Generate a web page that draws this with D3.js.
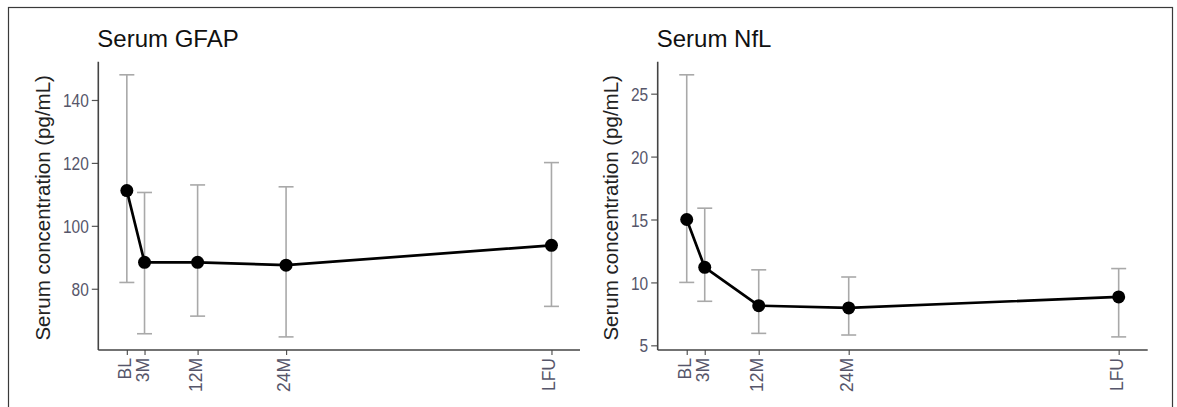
<!DOCTYPE html>
<html>
<head>
<meta charset="utf-8">
<script src="https://cdn.jsdelivr.net/npm/d3@7"></script>
<style>
  body { margin: 0; background: #fff; }
  svg { display: block; font-family: "Liberation Sans", Arial, sans-serif; }
</style>
</head>
<body>
<div class="board"></div>
<script>
// visit labels and (approximate) months after baseline
const timeLabels = ["BL", "3M", "12M", "24M", "LFU"];
const timeMonths = [0, 3, 12, 27, 72];

// serum GFAP, pg/mL
const gfapMean  = [111.2, 88.4, 88.4, 87.5, 93.8];
const gfapLower = [82.0, 65.7, 71.3, 64.7, 74.4];
const gfapUpper = [148.0, 110.6, 113.0, 112.4, 120.1];
const gfapTicks = [80, 100, 120, 140];

// serum NfL, pg/mL
const nflMean  = [15.0, 11.2, 8.15, 7.97, 8.85];
const nflLower = [10.0, 8.5, 5.95, 5.82, 5.67];
const nflUpper = [26.5, 15.9, 11.0, 10.43, 11.1];
const nflTicks = [5, 10, 15, 20, 25];

const W = 1177, H = 407;

const svg = d3.select(".board")
    .append("svg")
    .attr("width", W)
    .attr("height", H)

// outer frame (bottom runs off the picture)
svg.append("rect")
    .attr("x", 8.5)
    .attr("y", 7.5)
    .attr("width", 1164)
    .attr("height", 420)
    .attr("fill", "none")
    .attr("stroke", "#3a3a3a")
    .attr("stroke-width", 1.2)

function buildRows(mean, lower, upper) {
    return timeLabels.map((lab, i) => ({
        label: lab, t: timeMonths[i], mean: mean[i], lo: lower[i], hi: upper[i]
    }))
}

function drawPanel(p) {
    let rows = buildRows(p.mean, p.lower, p.upper)

    // ggplot-like expansion of the domains
    let xMin = d3.min(timeMonths), xMax = d3.max(timeMonths)
    let xPad = (xMax - xMin) * 0.0672
    let xScale = d3.scaleLinear()
        .domain([xMin - xPad, xMax + xPad])
        .range([p.left, p.right])

    let yMin = d3.min(p.lower), yMax = d3.max(p.upper)
    let yPad = (yMax - yMin) * 0.05
    let yScale = d3.scaleLinear()
        .domain([yMin - yPad, yMax + yPad])
        .range([p.bottom, p.top])

    let g = svg.append("g")

    // title
    g.append("text")
        .attr("x", p.left - 1)
        .attr("y", 46.5)
        .attr("font-size", 24)
        .attr("fill", "#111")
        .text(p.title)

    // y axis
    let yAxis = g.append("g")
        .attr("transform", `translate(${p.left}, 0)`)
        .call(d3.axisLeft(yScale).tickValues(p.ticks).tickSize(6.5).tickPadding(3).tickSizeOuter(0))
    yAxis.select(".domain").remove()
    yAxis.selectAll(".tick line").attr("stroke", "#555").attr("stroke-width", 1.2)
    // labels in the reference are a narrow face
    yAxis.selectAll(".tick text")
        .attr("font-size", 18.5)
        .attr("fill", "#56566a")
        .attr("dy", "0.36em")
        .attr("textLength", d => String(d).length * 8.6)
        .attr("lengthAdjust", "spacingAndGlyphs")

    let labelW = d3.max(p.ticks, d => String(d).length * 8.6)

    // y axis title
    g.append("text")
        .attr("transform", `translate(${p.left - 9.5 - labelW - 20}, ${(p.top + p.bottom) / 2 + 2}) rotate(-90)`)
        .attr("text-anchor", "middle")
        .attr("dy", "0.35em")
        .attr("font-size", 20.5)
        .attr("fill", "#222")
        .text("Serum concentration (pg/mL)")

    // x axis
    let xAxis = g.append("g")
        .attr("transform", `translate(0, ${p.bottom})`)
        .call(d3.axisBottom(xScale).tickValues(timeMonths).tickSize(5).tickSizeOuter(0)
            .tickFormat((d, i) => timeLabels[i]))
    xAxis.select(".domain").remove()
    xAxis.selectAll(".tick line").attr("stroke", "#555").attr("stroke-width", 1.2)
    xAxis.selectAll(".tick text")
        .attr("font-size", 17.5)
        .attr("fill", "#56566a")
        .attr("transform", "rotate(-90)")
        .attr("text-anchor", "end")
        .attr("x", -8)
        .attr("y", 0)
        .attr("dy", "0.2em")

    // axis lines
    g.append("line")
        .attr("x1", p.left).attr("x2", p.left)
        .attr("y1", p.top).attr("y2", p.bottom)
        .attr("stroke", "#444").attr("stroke-width", 1.6)
    g.append("line")
        .attr("x1", p.left).attr("x2", p.right)
        .attr("y1", p.bottom).attr("y2", p.bottom)
        .attr("stroke", "#444").attr("stroke-width", 1.6)

    // error bars
    let cap = 7.5
    let eb = g.selectAll(".eb")
        .data(rows)
        .enter()
        .append("g")
        .attr("stroke", "#a9a9a9")
        .attr("stroke-width", 1.6)
    eb.append("line")
        .attr("x1", d => xScale(d.t)).attr("x2", d => xScale(d.t))
        .attr("y1", d => yScale(d.lo)).attr("y2", d => yScale(d.hi))
    eb.append("line")
        .attr("x1", d => xScale(d.t) - cap).attr("x2", d => xScale(d.t) + cap)
        .attr("y1", d => yScale(d.hi)).attr("y2", d => yScale(d.hi))
    eb.append("line")
        .attr("x1", d => xScale(d.t) - cap).attr("x2", d => xScale(d.t) + cap)
        .attr("y1", d => yScale(d.lo)).attr("y2", d => yScale(d.lo))

    // mean line
    g.append("path")
        .datum(rows)
        .attr("fill", "none")
        .attr("stroke", "#000")
        .attr("stroke-width", 2.7)
        .attr("d", d3.line()
            .x(d => xScale(d.t))
            .y(d => yScale(d.mean)))

    // points
    g.selectAll(".pt")
        .data(rows)
        .enter()
        .append("circle")
        .attr("cx", d => xScale(d.t))
        .attr("cy", d => yScale(d.mean))
        .attr("r", 6.5)
        .attr("fill", "#000")
}

drawPanel({
    title: "Serum GFAP", mean: gfapMean, lower: gfapLower, upper: gfapUpper, ticks: gfapTicks,
    left: 98.3, right: 580, top: 61.7, bottom: 350
})
drawPanel({
    title: "Serum NfL", mean: nflMean, lower: nflLower, upper: nflUpper, ticks: nflTicks,
    left: 657.7, right: 1147.7, top: 61.7, bottom: 350
})
</script>
</body>
</html>
